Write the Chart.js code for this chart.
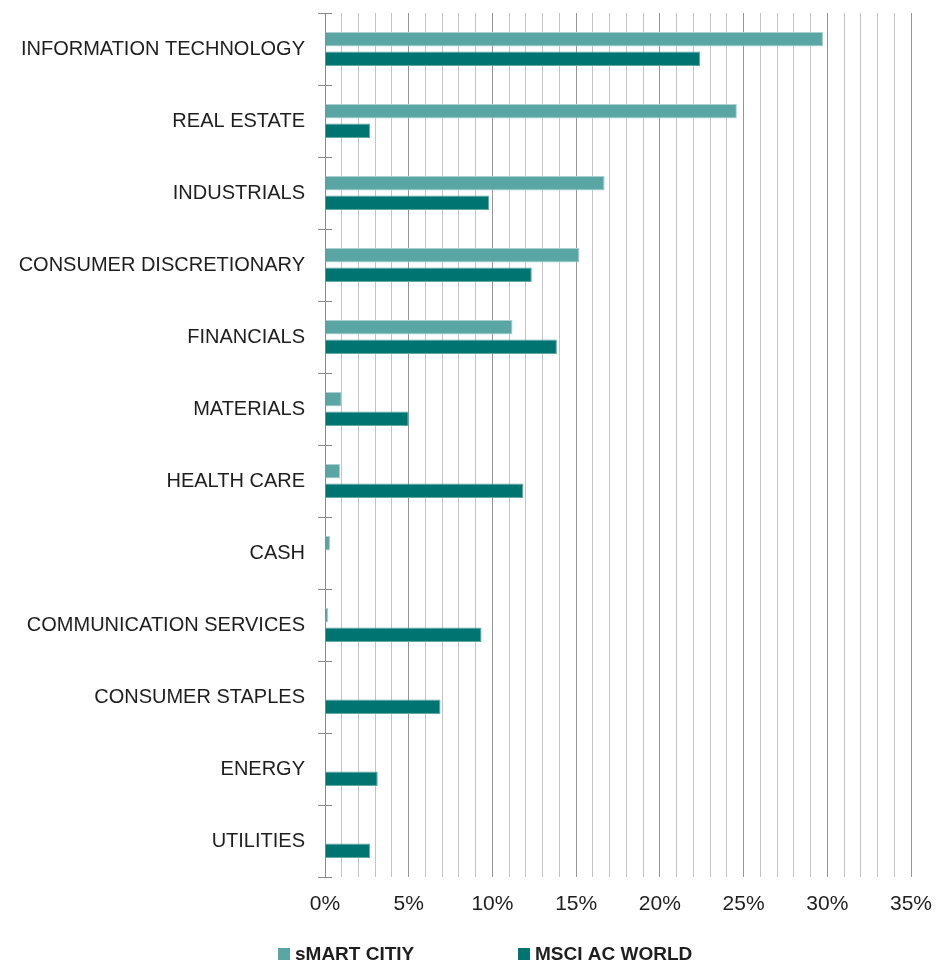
<!DOCTYPE html>
<html>
<head>
<meta charset="utf-8">
<script src="https://cdn.jsdelivr.net/npm/chart.js@4.4.1/dist/chart.umd.min.js"></script>
<style>
  html, body { margin: 0; padding: 0; background: #ffffff; }
  #wrap { width: 938px; height: 965px; position: relative; }
</style>
</head>
<body>
<div id="wrap"><canvas id="c"></canvas></div>
<script>
const categories = [
  'INFORMATION TECHNOLOGY',
  'REAL ESTATE',
  'INDUSTRIALS',
  'CONSUMER DISCRETIONARY',
  'FINANCIALS',
  'MATERIALS',
  'HEALTH CARE',
  'CASH',
  'COMMUNICATION SERVICES',
  'CONSUMER STAPLES',
  'ENERGY',
  'UTILITIES'
];
const seriesNames = ['sMART CITIY', 'MSCI AC WORLD'];
const smartCityValues = [29.75, 24.6, 16.7, 15.2, 11.2, 1.0, 0.9, 0.3, 0.2, null, null, null];
const msciWorldValues = [22.4, 2.7, 9.8, 12.35, 13.85, 5.0, 11.85, null, 9.35, 6.9, 3.15, 2.7];
const xTickValues = [0, 5, 10, 15, 20, 25, 30, 35];

const COL_SMART = '#5aa6a5';
const COL_MSCI = '#007471';
const TEXT = '#1e1e1e';

const crossTicks = {
  id: 'crossTicks',
  afterDatasetsDraw(chart) {
    const y = chart.scales.y, ctx = chart.ctx;
    const n = chart.data.labels.length;
    const x0 = chart.chartArea.left;
    ctx.save();
    ctx.strokeStyle = '#8a8a8a';
    ctx.lineWidth = 1;
    for (let i = 0; i <= n; i++) {
      const yy = Math.round(y.top + i * (y.bottom - y.top) / n) + 0.5;
      ctx.beginPath();
      ctx.moveTo(x0, yy);
      ctx.lineTo(x0 + 7, yy);
      ctx.stroke();
    }
    ctx.restore();
  }
};

const customLegend = {
  id: 'customLegend',
  afterDraw(chart) {
    const ctx = chart.ctx;
    const startX = chart.chartArea.left - 47;
    const offsets = [0, 240];
    const yBox = 948;
    ctx.save();
    ctx.font = 'bold 19px "Liberation Sans", Arial, sans-serif';
    ctx.textBaseline = 'middle';
    ctx.textAlign = 'left';
    chart.data.datasets.forEach((ds, i) => {
      const x = startX + offsets[i];
      ctx.fillStyle = ds.backgroundColor;
      ctx.fillRect(x, yBox, 12, 12);
      ctx.fillStyle = TEXT;
      ctx.fillText(ds.label, x + 17, yBox + 7);
    });
    ctx.restore();
  }
};

new Chart(document.getElementById('c'), {
  type: 'bar',
  data: {
    labels: categories,
    datasets: [
      {
        label: seriesNames[0],
        data: smartCityValues,
        backgroundColor: COL_SMART,
        borderColor: '#a9d3d1',
        borderWidth: 1,
        categoryPercentage: 0.547,
        barPercentage: 0.736
      },
      {
        label: seriesNames[1],
        data: msciWorldValues,
        backgroundColor: COL_MSCI,
        borderColor: '#5fa9a5',
        borderWidth: 1,
        categoryPercentage: 0.547,
        barPercentage: 0.736
      }
    ]
  },
  options: {
    indexAxis: 'y',
    responsive: true,
    maintainAspectRatio: false,
    animation: false,
    layout: { padding: { top: 13, right: 27, bottom: 50, left: 0 } },
    plugins: {
      legend: { display: false },
      tooltip: { enabled: false }
    },
    scales: {
      x: {
        min: 0,
        max: 35,
        afterBuildTicks(scale) {
          const t = [];
          for (let v = 0; v <= 35; v++) t.push({ value: v });
          scale.ticks = t;
        },
        afterFit(scale) {
          scale.height = 38;
          scale.paddingLeft = 0;
          scale.paddingRight = 0;
        },
        grid: {
          drawTicks: false,
          color: (c) => (c.tick && c.tick.value % 5 === 0) ? '#959595' : '#c4c4c4',
          lineWidth: 1
        },
        border: { display: false },
        ticks: {
          autoSkip: false,
          maxRotation: 0,
          padding: 15,
          color: TEXT,
          font: { family: '"Liberation Sans", Arial, sans-serif', size: 21 },
          callback: (v) => xTickValues.includes(v) ? v + '%' : ''
        }
      },
      y: {
        afterFit(scale) {
          scale.width = 325;
          scale.paddingTop = 0;
          scale.paddingBottom = 0;
        },
        grid: {
          drawOnChartArea: false,
          drawTicks: true,
          tickLength: 7,
          color: '#8a8a8a',
          offset: true
        },
        border: { display: true, color: '#8a8a8a', width: 1 },
        ticks: {
          padding: 13,
          color: TEXT,
          font: { family: '"Liberation Sans", Arial, sans-serif', size: 20 }
        }
      }
    }
  },
  plugins: [crossTicks, customLegend]
});
</script>
</body>
</html>
